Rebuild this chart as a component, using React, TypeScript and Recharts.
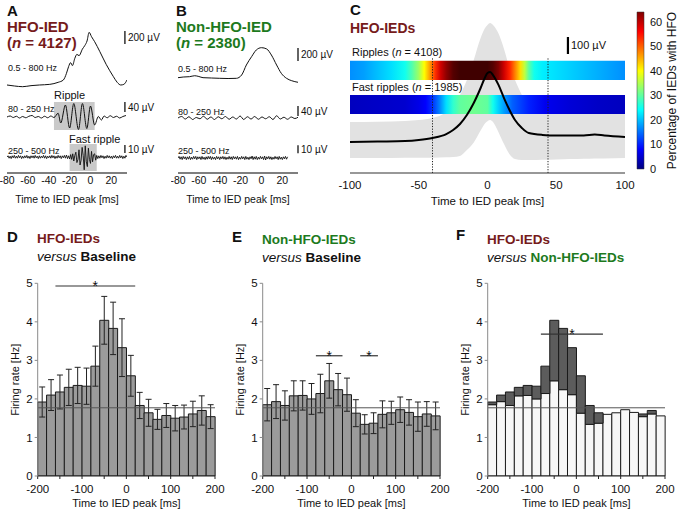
import React from "react";
import {
  ComposedChart,
  Line,
  Area,
  Bar,
  XAxis,
  YAxis,
  ReferenceArea,
  ReferenceLine,
  ErrorBar,
} from "recharts";

const FONT = "'Liberation Sans', Arial, Helvetica, sans-serif";
const DARK_RED = "#761b1b";
const GREEN = "#1d7a1d";
const INK = "#111";

type Pair = [number, number];

// ---------- A / B : averaged IED waveforms ([ms, µV]) ----------
const TRACE_TICKS = [-80, -60, -40, -20, 0, 20];
const TRACE_START = -80;

const A_BROADBAND: Pair[] = [
  [-80, 0], [-73, -15], [-65, -26], [-57, -10], [-49, 0], [-39, 10], [-31, 41],
  [-26, 77], [-23, 180], [-21, 282], [-19, 344], [-17.3, 298], [-15, 411],
  [-13, 472], [-11, 452], [-7.7, 554], [-5.5, 606], [-3.3, 678], [-1.3, 811],
  [1, 744], [4, 667], [9, 513], [15, 319], [22, 128], [25.6, 41], [29, 0],
  [32, 10], [35, 77],
];
const A_RIPPLE: Pair[] = [
  [-80, 0], [-77, 4], [-74, -2], [-71, 3], [-68, -4], [-65, 2], [-62, -3],
  [-59, 3], [-56, 6], [-53, -2], [-50, 2], [-47, -4], [-44, 3], [-41, -3],
  [-38, 4], [-35, -2], [-31, 15], [-28.5, -24], [-24, 48], [-20, -44],
  [-16, 54], [-11.5, -50], [-7.7, 54], [-3.5, -46], [0, 44], [4, -32],
  [7.5, 2], [10.5, -12], [13, 4], [16, -3], [19, 5], [22, -2], [25, 3],
  [28, -4], [31, 2], [34, 6],
];
// one sample per ms from -80 ms
const A_FAST = [
  0, 1.5, -1.5, 1, -2, 1.5, -1, 2, -1.5, 1,
  -1.5, 2, -1, 1.5, -2, 1, -1.5, 1.5, -1, 2,
  -1.5, 1, -2, 1.5, -1, 1.5, -1.5, 2, -1, 1,
  -2, 1.5, -1.5, 1, -1, 2, -1.5, 1.5, -2, 1,
  -1, 1.5, -1.5, 2, -1, 1.5, -2, 1, -1.5, 2,
  -1, 1.5, -2, 1.5, -1, 2, -1.5, 2.5, -2, 1.5,
  -2.5, 3, -3, 4, -5, 2, 6, -7, -3, 9,
  -10, -4, 12, 2, -16, 14, -6, -12, 11, -3,
  -8, 7, -6, 3, 4, -4, 2,
  -2, 1.5, -1.5, 2, -1, 1.5, -2, 1, -1.5, 2,
  -1, 1.5, -1.5, 1, -2, 1.5, -1, 2, -1.5, 1,
  -1.5, 2, -1, 1.5, -2, 1, -1.5, 2, 0,
];

const B_BROADBAND: Pair[] = [
  [-80, 5], [-75, 15], [-69, 20], [-64, 35], [-60, 23], [-56, 5], [-48, 0],
  [-40, -5], [-32, -8], [-24, -5], [-19, 46], [-14.5, 200], [-9.5, 328],
  [-5, 431], [0, 467], [5, 447], [9.5, 354], [14.5, 200], [19, 72],
  [24, -5], [29, -42], [35, -66],
];
const B_RIPPLE: Pair[] = [
  [-80, 0], [-76.5, 6], [-73, -4], [-69.5, 5], [-66, -6], [-62.5, 2], [-59, -3],
  [-55.5, 7], [-52, -5], [-48.5, 4], [-45, -6], [-41.5, 5], [-38, -3],
  [-34.5, 6], [-31, -5], [-27.5, 4], [-24, -4], [-20.5, 8], [-17, -6],
  [-13.5, 5], [-10, -4], [-6.5, 6], [-3, -5], [0.5, 4], [4, -3], [7.5, 5],
  [11, -6], [14.5, 9], [18, -4], [21.5, 3], [25, -5], [28.5, 4], [32, -2], [35, 3],
];
const B_FAST = [
  0, 2, -1.5, 1.5, -2, 2, -1, 1.5, -2, 1.5,
  -1.5, 2, -2, 1, -1.5, 2, -1, 2, -2, 1.5,
  -1, 1.5, -2, 2, -1.5, 1, -2, 1.5, -1.5, 2,
  -1, 2, -2, 1.5, -1.5, 1, -2, 2, -1, 1.5,
  -2, 1.5, -1, 2, -1.5, 1.5, -2, 1, -1.5, 2,
  -1.5, 1.5, -2, 2, -1, 1.5, -1.5, 2, -2, 1,
  -1.5, 2, -1, 1.5, -2, 2, -1.5, 1, -2, 1.5,
  -1, 2.5, -2, 1.5, -1.5, 2, -2, 1, -1.5, 2,
  -1, 1.5, -2, 2.5, -2.5, 1.5, -1, 2, -1.5, 1.5,
  -2, 1, -1.5, 2, -1, 1.5, -2, 2, -1.5, 1,
  -2, 1.5, -1, 2, -1.5, 1.5,
];

// ---------- C : mean HFO-IED waveform ± SD and HFO occurrence ----------
const C_TIME = [-100, -80, -60, -50, -40, -30, -25, -20, -15, -10, -5, -2, 0, 2, 4, 8, 12, 16, 20, 25, 30, 40, 50, 60, 70, 78, 85, 100];
const C_MEAN = [182, 185, 188, 194, 206, 229, 253, 288, 341, 412, 500, 559, 588, 594, 576, 518, 441, 371, 312, 265, 235, 224, 221, 221, 221, 226, 221, 212];
const C_UPPER = [300, 302, 306, 312, 324, 359, 400, 459, 547, 665, 794, 850, 871, 882, 870, 820, 730, 620, 547, 459, 400, 370, 362, 360, 360, 362, 360, 359];
const C_LOWER = [88, 88, 90, 90, 90, 92, 94, 100, 135, 180, 250, 290, 305, 312, 300, 240, 170, 110, 82, 76, 76, 78, 80, 82, 84, 86, 86, 88];

const RIPPLE_T = [-100, -90, -80, -70, -60, -55, -50, -46, -42, -38, -34, -30, -25, -20, -10, 0, 4, 8, 12, 16, 20, 24, 27, 30, 34, 40, 60, 80, 100];
const RIPPLE_PCT = [17, 18, 20, 22, 25, 29, 34, 40, 46, 53, 59, 63, 68, 70, 70, 70, 68, 64, 59, 54, 48, 42, 36, 30, 25, 23, 21, 19, 17];
const FAST_T = [-100, -80, -60, -50, -45, -40, -35, -30, -25, -20, -10, 0, 4, 8, 12, 18, 24, 30, 42, 60, 80, 100];
const FAST_PCT = [4, 4.5, 5, 6.5, 8, 11, 16, 22, 27, 30, 31, 30, 25, 21, 18, 14, 12, 10, 7, 5.5, 4.5, 4];

const C_TICKS = [-100, -50, 0, 50, 100];
const C_MARKERS = [-40, 44];
const COLOR_MAX = 64;
const COLOR_TICKS = [0, 10, 20, 30, 40, 50, 60];

// ---------- D / E / F : firing rate around IED peak ----------
const BIN_CENTERS = [-190, -170, -150, -130, -110, -90, -70, -50, -30, -10, 10, 30, 50, 70, 90, 110, 130, 150, 170, 190];
const HFO_RATE = [1.92, 2.1, 2.18, 2.3, 2.35, 2.33, 2.85, 4.04, 3.83, 3.33, 2.6, 1.83, 1.64, 1.47, 1.57, 1.5, 1.53, 1.61, 1.7, 1.54];
const HFO_ERR = [0.39, 0.4, 0.44, 0.47, 0.47, 0.47, 0.52, 0.62, 0.68, 0.75, 0.53, 0.34, 0.35, 0.26, 0.31, 0.33, 0.31, 0.33, 0.38, 0.31];
const NONHFO_RATE = [1.85, 1.93, 1.83, 2.08, 2.09, 2.0, 2.14, 2.47, 2.24, 2.11, 1.63, 1.34, 1.37, 1.6, 1.64, 1.72, 1.65, 1.54, 1.61, 1.56];
const NONHFO_ERR = [0.42, 0.44, 0.38, 0.39, 0.38, 0.4, 0.5, 0.45, 0.42, 0.43, 0.35, 0.25, 0.27, 0.35, 0.3, 0.33, 0.33, 0.38, 0.32, 0.36];
const BASELINE_RATE = 1.77;
const RATE_TICKS = [0, 1, 2, 3, 4, 5];
const T_TICKS = [-200, -150, -100, -50, 0, 50, 100, 150, 200];
// [from ms, to ms, height Hz]
const SIG_D: [number, number, number][] = [[-160, 20, 4.93]];
const SIG_E: [number, number, number][] = [[-80, -20, 3.12], [20, 60, 3.12]];
const SIG_F: [number, number, number][] = [[-80, 60, 3.68]];

// jet colour map
const JET: number[][] = [
  [0, 0, 0, 0.5], [0.125, 0, 0, 1], [0.375, 0, 1, 1], [0.625, 1, 1, 0],
  [0.875, 1, 0, 0], [1, 0.5, 0, 0], [1.12, 0.18, 0, 0],
];
function jet(f: number) {
  const x = Math.max(0, Math.min(1.12, f));
  for (let i = 1; i < JET.length; i++) {
    const a = JET[i - 1];
    const b = JET[i];
    if (x <= b[0]) {
      const k = (x - a[0]) / (b[0] - a[0]);
      const c = [1, 2, 3].map((j) => Math.round(255 * (a[j] + (b[j] - a[j]) * k)));
      return `rgb(${c.join(",")})`;
    }
  }
  return "rgb(46,0,0)";
}

function Txt({ x, cy, size, bold, italic, color, children }: any) {
  return (
    <div
      style={{
        position: "absolute",
        left: x,
        top: cy - size * 0.5,
        fontSize: size,
        lineHeight: `${size}px`,
        fontWeight: bold ? 700 : 400,
        fontStyle: italic ? "italic" : "normal",
        color: color ?? INK,
        whiteSpace: "nowrap",
      }}
    >
      {children}
    </div>
  );
}

// ---------- trace panels ----------
const P_TOP = 20;
const P_BOTTOM = 173;
const dom = (base: number, uvPerPx: number) => [-(P_BOTTOM - base) * uvPerPx, (base - P_TOP) * uvPerPx];
const pairRows = (p: Pair[]) => p.map(([t, v]) => ({ t, v }));
const sampleRows = (vals: number[]) => vals.map((v, i) => ({ t: TRACE_START + i, v }));

function TracePanel({ left, bb, rip, fr, base, bars, barX, boxes }: any) {
  const seg = (x: number, r: number[]) => [{ x, y: r[0] }, { x, y: r[1] }];
  const lbl = (value: string) => ({ value, position: "right", offset: 3, fontSize: 10, fill: INK });
  return (
    <div style={{ position: "absolute", left, top: 0 }}>
      <ComposedChart width={175} height={210} margin={{ top: P_TOP, right: 48, bottom: 0, left: 7 }}>
        <XAxis
          type="number"
          dataKey="t"
          domain={[-80, 35]}
          allowDataOverflow
          ticks={TRACE_TICKS}
          interval={0}
          height={37}
          tickLine={false}
          tickSize={0}
          tickMargin={4}
          axisLine={{ stroke: "#555", strokeWidth: 1.5 }}
          tick={{ fontSize: 10.5, fill: INK }}
          label={{ value: "Time to IED peak [ms]", position: "insideBottom", offset: 7, fontSize: 10.5, fill: INK }}
        />
        <YAxis yAxisId="bb" hide domain={dom(base[0], 15.4)} allowDataOverflow />
        <YAxis yAxisId="rip" hide domain={dom(base[1], 4)} allowDataOverflow />
        <YAxis yAxisId="fr" hide domain={dom(base[2], 1.25)} allowDataOverflow />
        {boxes && (
          <ReferenceArea yAxisId="rip" x1={boxes[0][0]} x2={boxes[0][1]} y1={boxes[0][2]} y2={boxes[0][3]} fill="#c9c9c9" fillOpacity={1} stroke="none" />
        )}
        {boxes && (
          <ReferenceArea yAxisId="fr" x1={boxes[1][0]} x2={boxes[1][1]} y1={boxes[1][2]} y2={boxes[1][3]} fill="#c9c9c9" fillOpacity={1} stroke="none" />
        )}
        <Line data={pairRows(bb)} dataKey="v" yAxisId="bb" type="monotone" stroke={INK} strokeWidth={1} dot={false} isAnimationActive={false} />
        <Line data={pairRows(rip)} dataKey="v" yAxisId="rip" type="monotone" stroke={INK} strokeWidth={1} dot={false} isAnimationActive={false} />
        <Line data={sampleRows(fr)} dataKey="v" yAxisId="fr" type="linear" stroke={INK} strokeWidth={0.9} dot={false} isAnimationActive={false} />
        <ReferenceLine yAxisId="bb" segment={seg(barX, bars[0])} stroke={INK} strokeWidth={1.3} label={lbl("200 µV")} />
        <ReferenceLine yAxisId="rip" segment={seg(barX, bars[1])} stroke={INK} strokeWidth={1.3} label={lbl("40 µV")} />
        <ReferenceLine yAxisId="fr" segment={seg(barX, bars[2])} stroke={INK} strokeWidth={1.3} label={lbl("10 µV")} />
      </ComposedChart>
    </div>
  );
}

// ---------- panel C ----------
const C_MIN = -100;
const C_MAX = 100;
const RIPPLE_ROW = [547, 660];
const FAST_ROW = [347, 459];
const cRows = C_TIME.map((t, i) => ({ t, mean: C_MEAN[i], band: [C_LOWER[i], C_UPPER[i]] }));
const C_MARGIN = { top: 20, right: 15, left: 20 };

function PanelC() {
  const box = { position: "absolute" as const, left: 330, top: 0 };
  const seg = (x: number) => [{ x, y: 0 }, { x, y: 680 }];
  return (
    <>
      <div style={box}>
        <ComposedChart width={310} height={210} data={cRows} margin={{ ...C_MARGIN, bottom: 37 }}>
          <XAxis type="number" dataKey="t" domain={[C_MIN, C_MAX]} allowDataOverflow hide />
          <YAxis hide domain={[0, 900]} allowDataOverflow />
          <Area dataKey="band" type="monotone" fill="#e2e2e2" fillOpacity={1} stroke="none" isAnimationActive={false} />
        </ComposedChart>
      </div>
      <div style={box}>
        <ComposedChart width={310} height={210} data={cRows} margin={{ ...C_MARGIN, bottom: 0 }}>
          <defs>
            <linearGradient id="ripGrad" x1="0" y1="0" x2="1" y2="0">
              {RIPPLE_T.map((t, i) => (
                <stop key={t} offset={(t - C_MIN) / (C_MAX - C_MIN)} stopColor={jet(RIPPLE_PCT[i] / COLOR_MAX)} />
              ))}
            </linearGradient>
            <linearGradient id="fastGrad" x1="0" y1="0" x2="1" y2="0">
              {FAST_T.map((t, i) => (
                <stop key={t} offset={(t - C_MIN) / (C_MAX - C_MIN)} stopColor={jet(FAST_PCT[i] / COLOR_MAX)} />
              ))}
            </linearGradient>
          </defs>
          <XAxis
            type="number"
            dataKey="t"
            domain={[C_MIN, C_MAX]}
            allowDataOverflow
            ticks={C_TICKS}
            interval={0}
            height={37}
            tickLine={false}
            tickSize={0}
            tickMargin={8}
            axisLine={{ stroke: "#333", strokeWidth: 1.2 }}
            tick={{ fontSize: 11.5, fill: INK }}
            label={{ value: "Time to IED peak [ms]", position: "insideBottom", offset: 5, fontSize: 11.5, fill: INK }}
          />
          <YAxis hide domain={[0, 900]} allowDataOverflow />
          <ReferenceArea x1={C_MIN} x2={C_MAX} y1={RIPPLE_ROW[0]} y2={RIPPLE_ROW[1]} fill="url(#ripGrad)" fillOpacity={1} stroke="none" />
          <ReferenceArea x1={C_MIN} x2={C_MAX} y1={FAST_ROW[0]} y2={FAST_ROW[1]} fill="url(#fastGrad)" fillOpacity={1} stroke="none" />
          {C_MARKERS.map((m) => (
            <ReferenceLine key={m} segment={seg(m)} stroke="#222" strokeWidth={1} strokeDasharray="1.2 1.5" />
          ))}
          <Line dataKey="mean" type="monotone" stroke="#000" strokeWidth={2} dot={false} isAnimationActive={false} />
          <ReferenceLine
            segment={[{ x: 58.5, y: 700 }, { x: 58.5, y: 800 }]}
            stroke="#000"
            strokeWidth={2.2}
            label={{ value: "100 µV", position: "right", offset: 3, fontSize: 11, fill: INK }}
          />
        </ComposedChart>
      </div>
    </>
  );
}

function ColorBar() {
  return (
    <div style={{ position: "absolute", left: 628, top: 0 }}>
      <ComposedChart width={52} height={210} data={[{ x: 0 }, { x: 1 }]} margin={{ top: 12, right: 0, bottom: 41, left: 9 }}>
        <defs>
          <linearGradient id="cbarGrad" x1="0" y1="1" x2="0" y2="0">
            {JET.filter((s) => s[0] <= 1).map((s) => (
              <stop key={s[0]} offset={s[0]} stopColor={jet(s[0])} />
            ))}
          </linearGradient>
        </defs>
        <XAxis type="number" dataKey="x" domain={[0, 1]} hide />
        <YAxis
          orientation="right"
          domain={[0, COLOR_MAX]}
          allowDataOverflow
          ticks={COLOR_TICKS}
          interval={0}
          width={36}
          tickLine={false}
          tickSize={3}
          tickMargin={3}
          axisLine={false}
          tick={{ fontSize: 11, fill: INK }}
          label={{
            value: "Percentage of IEDs with HFO",
            angle: -90,
            position: "insideRight",
            offset: 8,
            fontSize: 12,
            fill: INK,
            style: { textAnchor: "middle" },
          }}
        />
        <ReferenceArea x1={0} x2={1} y1={0} y2={COLOR_MAX} fill="url(#cbarGrad)" fillOpacity={1} stroke="#333" strokeWidth={0.5} />
      </ComposedChart>
    </div>
  );
}

// ---------- panels D / E / F ----------
const rateRows = BIN_CENTERS.map((t, i) => ({
  bin: String(t),
  t,
  hfo: HFO_RATE[i],
  hfoErr: HFO_ERR[i],
  non: NONHFO_RATE[i],
  nonErr: NONHFO_ERR[i],
  extra: Math.max(0, HFO_RATE[i] - NONHFO_RATE[i]),
}));

function RatePanel({ left, kind, sig }: { left: number; kind: "D" | "E" | "F"; sig: [number, number, number][] }) {
  return (
    <div style={{ position: "absolute", left, top: 270 }}>
      <ComposedChart width={225} height={242} data={rateRows} barCategoryGap={0} barGap={0} margin={{ top: 13.3, right: 10, bottom: 0, left: 0 }}>
        <XAxis
          xAxisId="t"
          dataKey="t"
          type="number"
          domain={[-200, 200]}
          allowDataOverflow
          ticks={T_TICKS}
          interval={0}
          tickFormatter={(v: number) => (v % 100 === 0 ? String(v) : "")}
          height={36}
          tickSize={3}
          tickMargin={6}
          axisLine={{ stroke: "#222" }}
          tickLine={{ stroke: "#222" }}
          tick={{ fontSize: 11.5, fill: INK }}
          label={{ value: "Time to IED peak [ms]", position: "insideBottom", offset: 5, fontSize: 11, fill: INK }}
        />
        <XAxis xAxisId="bin" dataKey="bin" type="category" orientation="top" height={0} hide />
        <YAxis
          domain={[0, 5]}
          allowDataOverflow
          ticks={RATE_TICKS}
          interval={0}
          width={37.7}
          tickSize={3}
          tickMargin={2}
          axisLine={{ stroke: "#8a8a8a" }}
          tickLine={{ stroke: "#8a8a8a" }}
          tick={{ fontSize: 11.5, fill: INK }}
          label={{
            value: "Firing rate [Hz]",
            angle: -90,
            position: "insideLeft",
            offset: 15,
            fontSize: 11,
            fill: INK,
            style: { textAnchor: "middle" },
          }}
        />
        {kind === "D" && (
          <Bar xAxisId="bin" dataKey="hfo" fill="#9b9b9b" stroke="#1a1a1a" strokeWidth={1} isAnimationActive={false}>
            <ErrorBar dataKey="hfoErr" width={3} stroke="#222" strokeWidth={1} direction="y" />
          </Bar>
        )}
        {kind === "E" && (
          <Bar xAxisId="bin" dataKey="non" fill="#9b9b9b" stroke="#1a1a1a" strokeWidth={1} isAnimationActive={false}>
            <ErrorBar dataKey="nonErr" width={3} stroke="#222" strokeWidth={1} direction="y" />
          </Bar>
        )}
        {kind === "F" && (
          <Bar xAxisId="bin" dataKey="non" stackId="f" fill="#f7f7f7" stroke="#1a1a1a" strokeWidth={1} isAnimationActive={false} />
        )}
        {kind === "F" && (
          <Bar xAxisId="bin" dataKey="extra" stackId="f" fill="#5c5c5c" stroke="#1a1a1a" strokeWidth={1} isAnimationActive={false} />
        )}
        <ReferenceLine xAxisId="t" y={BASELINE_RATE} stroke="#555" strokeWidth={1} />
        {sig.map(([a, b, y]) => (
          <ReferenceLine
            key={a}
            xAxisId="t"
            segment={[{ x: a, y }, { x: b, y }]}
            stroke="#333"
            strokeWidth={1.2}
            label={{ value: "*", position: "center", fontSize: 14, fill: INK }}
          />
        ))}
      </ComposedChart>
    </div>
  );
}

export default function App() {
  const n = <i>n</i>;
  return (
    <div
      style={{
        position: "absolute",
        left: 0,
        top: 0,
        width: 680,
        height: 512,
        background: "#fff",
        fontFamily: FONT,
        color: INK,
        overflow: "hidden",
      }}
    >
      <TracePanel
        left={0}
        bb={A_BROADBAND}
        rip={A_RIPPLE}
        fr={A_FAST}
        base={[85, 117, 157]}
        bars={[[630, 830], [20, 60], [5, 15]]}
        barX={33}
        boxes={[[-35, 4, -52, 60], [-20, 6, -17.5, 16.25]]}
      />
      <TracePanel
        left={171}
        bb={B_BROADBAND}
        rip={B_RIPPLE}
        fr={B_FAST}
        base={[78, 118, 158]}
        bars={[[262, 462], [8, 48], [6, 16]]}
        barX={35}
      />
      <PanelC />
      <ColorBar />
      <RatePanel left={0} kind="D" sig={SIG_D} />
      <RatePanel left={225} kind="E" sig={SIG_E} />
      <RatePanel left={450} kind="F" sig={SIG_F} />

      {/* top row labels */}
      <Txt x={7} cy={10} size={15} bold>A</Txt>
      <Txt x={7} cy={26} size={15} bold color={DARK_RED}>HFO-IED</Txt>
      <Txt x={7} cy={42} size={15} bold color={DARK_RED}>({n} = 4127)</Txt>
      <Txt x={8} cy={68.5} size={9}>0.5 - 800 Hz</Txt>
      <Txt x={8} cy={109.5} size={9}>80 - 250 Hz</Txt>
      <Txt x={8} cy={151} size={9}>250 - 500 Hz</Txt>
      <Txt x={54} cy={95.5} size={11}>Ripple</Txt>
      <Txt x={69} cy={139.5} size={11}>Fast ripple</Txt>

      <Txt x={176} cy={10} size={15} bold>B</Txt>
      <Txt x={176} cy={26} size={15} bold color={GREEN}>Non-HFO-IED</Txt>
      <Txt x={176} cy={42} size={15} bold color={GREEN}>({n} = 2380)</Txt>
      <Txt x={178} cy={69.5} size={9}>0.5 - 800 Hz</Txt>
      <Txt x={178} cy={112} size={9}>80 - 250 Hz</Txt>
      <Txt x={178} cy={151.5} size={9}>250 - 500 Hz</Txt>

      <Txt x={350} cy={9} size={15} bold>C</Txt>
      <Txt x={350} cy={27.5} size={14} bold color={DARK_RED}>HFO-IEDs</Txt>
      <Txt x={352} cy={52} size={11}>Ripples ({n} = 4108)</Txt>
      <Txt x={352} cy={87.5} size={11}>Fast ripples ({n} = 1985)</Txt>

      {/* bottom row labels */}
      <Txt x={7} cy={236} size={15} bold>D</Txt>
      <Txt x={37} cy={239} size={13.5} bold color={DARK_RED}>HFO-IEDs</Txt>
      <Txt x={37} cy={256.5} size={13.5}><i>versus</i> <b>Baseline</b></Txt>

      <Txt x={232} cy={236} size={15} bold>E</Txt>
      <Txt x={262} cy={240} size={13.5} bold color={GREEN}>Non-HFO-IEDs</Txt>
      <Txt x={262} cy={257.5} size={13.5}><i>versus</i> <b>Baseline</b></Txt>

      <Txt x={456} cy={234} size={15} bold>F</Txt>
      <Txt x={487} cy={240} size={13.5} bold color={DARK_RED}>HFO-IEDs</Txt>
      <Txt x={487} cy={258} size={13.5}><i>versus</i> <b style={{ color: GREEN }}>Non-HFO-IEDs</b></Txt>
    </div>
  );
}
